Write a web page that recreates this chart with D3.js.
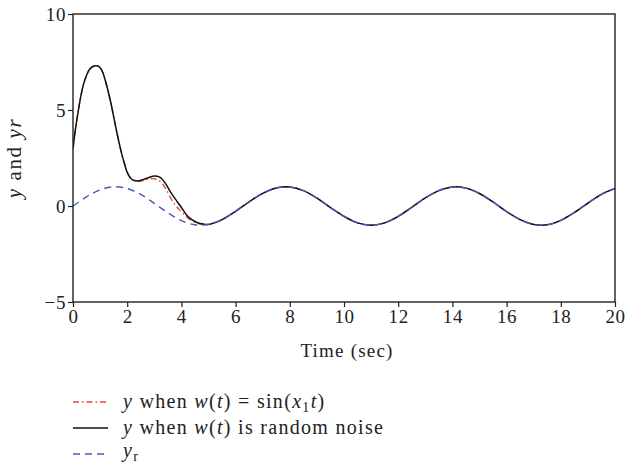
<!DOCTYPE html>
<html>
<head>
<meta charset="utf-8">
<script src="https://cdn.jsdelivr.net/npm/d3@7"></script>
<style>
  body { margin: 0; background: #fff; }
  svg { display: block; font-family: "Liberation Serif", "DejaVu Serif", serif; }
  .tick text { font-family: "Liberation Serif", serif; font-size: 19px; fill: #222; letter-spacing: 0.6px; }
</style>
</head>
<body>
<svg width="626" height="468"></svg>
<script>
// reference signal yr, read every 0.5 s
var tRef = [0,0.5,1,1.5,2,2.5,3,3.5,4,4.5,5,5.5,6,6.5,7,7.5,8,8.5,9,9.5,10,
            10.5,11,11.5,12,12.5,13,13.5,14,14.5,15,15.5,16,16.5,17,17.5,18,18.5,19,19.5,20];
var yRef = [0,0.48,0.84,1.0,0.91,0.6,0.14,-0.35,-0.76,-0.98,-0.96,-0.71,-0.28,0.22,0.66,0.94,0.99,0.8,0.41,-0.08,-0.54,
            -0.88,-1.0,-0.88,-0.54,-0.07,0.42,0.8,0.99,0.93,0.65,0.21,-0.29,-0.71,-0.96,-0.98,-0.75,-0.34,0.15,0.61,0.91];
// transient part of y (0..5 s), after that y follows yr
var tTrans = [0,0.1,0.2,0.3,0.4,0.5,0.6,0.75,0.9,1.0,1.1,1.2,1.3,1.4,1.5,1.6,1.7,1.8,1.9,2.0,
              2.1,2.2,2.4,2.6,2.8,3.0,3.2,3.4,3.6,3.8,4.0,4.2,4.4,4.6,4.8,5.0];
var yNoise = [3.0,4.1,5.0,5.8,6.4,6.8,7.1,7.28,7.3,7.2,6.95,6.5,5.95,5.35,4.65,3.95,3.3,2.7,2.2,1.75,
              1.5,1.36,1.3,1.38,1.48,1.56,1.5,1.2,0.72,0.32,-0.08,-0.48,-0.72,-0.87,-0.94,-0.96];
var ySine  = [3.0,4.1,5.0,5.8,6.4,6.8,7.1,7.28,7.3,7.2,6.95,6.5,5.95,5.35,4.65,3.95,3.3,2.7,2.2,1.75,
              1.5,1.36,1.3,1.33,1.4,1.42,1.3,0.95,0.42,0.0,-0.3,-0.58,-0.78,-0.9,-0.96,-0.96];
var xTicks = [0,2,4,6,8,10,12,14,16,18,20];
var yTicks = [-5,0,5,10];

var margin = {top: 14, right: 11, bottom: 166, left: 73},
    svg = d3.select('svg'),
    width = +svg.attr('width') - margin.left - margin.right,
    height = +svg.attr('height') - margin.top - margin.bottom;

var x = d3.scaleLinear().domain([0, 20]).range([0, width]);
var y = d3.scaleLinear().domain([-5, 10]).range([height, 0]);

var g = svg.append('g').attr('transform', 'translate(' + margin.left + ',' + margin.top + ')');

g.append('defs').append('clipPath').attr('id', 'clip')
  .append('rect').attr('width', width).attr('height', height);

var fmt = function(d){ return d < 0 ? '\u2212' + Math.abs(d) : d; };

var xa = g.append('g').attr('transform', 'translate(0,' + height + ')')
  .call(d3.axisBottom(x).tickValues(xTicks).tickSize(5).tickPadding(3).tickFormat(fmt));
var ya = g.append('g')
  .call(d3.axisLeft(y).tickValues(yTicks).tickSize(5).tickPadding(2).tickFormat(fmt));
[xa, ya].forEach(function(a){
  a.attr('font-family', '"Liberation Serif", serif').attr('font-size', 19);
  a.select('.domain').remove();
  a.selectAll('.tick line').attr('stroke', '#222').attr('stroke-width', 1.2);
});

// build series: transient part, then reference after 5 s
function series(vals){
  var pts = tTrans.map(function(t, i){ return [t, vals[i]]; });
  tRef.forEach(function(t, i){ if (t > 5) pts.push([t, yRef[i]]); });
  return pts;
}
var refPts = tRef.map(function(t, i){ return [t, yRef[i]]; });

var line = d3.line()
  .x(function(d){ return x(d[0]); })
  .y(function(d){ return y(d[1]); })
  .curve(d3.curveCatmullRom.alpha(0.5));

var plot = g.append('g').attr('clip-path', 'url(#clip)');
plot.append('path').datum(series(ySine)).attr('d', line)
  .attr('fill', 'none').attr('stroke', '#e8473c').attr('stroke-width', 1.4)
  .attr('stroke-dasharray', '6,3,1.5,3');
plot.append('path').datum(series(yNoise)).attr('d', line)
  .attr('fill', 'none').attr('stroke', '#111').attr('stroke-width', 1.5);
plot.append('path').datum(refPts).attr('d', line)
  .attr('fill', 'none').attr('stroke', '#4a58c4').attr('stroke-width', 1.4)
  .attr('stroke-dasharray', '7,5');

g.append('rect').attr('width', width).attr('height', height)
  .attr('fill', 'none').attr('stroke', '#222').attr('stroke-width', 1.4);

// axis titles
svg.append('text').attr('x', margin.left + width / 2 + 3).attr('y', 357)
  .attr('text-anchor', 'middle').attr('font-size', 19).attr('letter-spacing', 1.2).attr('fill', '#222')
  .text('Time (sec)');

var yl = svg.append('text').attr('transform', 'translate(21,' + (margin.top + height / 2) + ') rotate(-90)')
  .attr('text-anchor', 'middle').attr('font-size', 21).attr('letter-spacing', 1.6).attr('fill', '#222');
yl.append('tspan').attr('font-style', 'italic').text('y');
yl.append('tspan').text(' and ');
yl.append('tspan').attr('font-style', 'italic').text('yr');

// legend
var legend = svg.append('g').attr('font-size', 20).attr('letter-spacing', 1.3).attr('fill', '#222');
var rows = [
  {color: '#e8473c', dash: '6,3,1.5,3', width: 1.4},
  {color: '#111', dash: null, width: 1.5},
  {color: '#4a58c4', dash: '7,5', width: 1.4}
];
rows.forEach(function(r, i){
  var yy = 402 + i * 26;
  legend.append('line').attr('x1', 73).attr('x2', 108).attr('y1', yy).attr('y2', yy)
    .attr('stroke', r.color).attr('stroke-width', r.width).attr('stroke-dasharray', r.dash);
});
var t1 = legend.append('text').attr('x', 123).attr('y', 408);
t1.append('tspan').attr('font-style', 'italic').text('y');
t1.append('tspan').text(' when ');
t1.append('tspan').attr('font-style', 'italic').text('w');
t1.append('tspan').text('(');
t1.append('tspan').attr('font-style', 'italic').text('t');
t1.append('tspan').text(') = sin(');
t1.append('tspan').attr('font-style', 'italic').text('x');
t1.append('tspan').attr('font-size', 14).attr('dy', 4).text('1');
t1.append('tspan').attr('font-style', 'italic').attr('dy', -4).text('t');
t1.append('tspan').text(')');

var t2 = legend.append('text').attr('x', 123).attr('y', 434);
t2.append('tspan').attr('font-style', 'italic').text('y');
t2.append('tspan').text(' when ');
t2.append('tspan').attr('font-style', 'italic').text('w');
t2.append('tspan').text('(');
t2.append('tspan').attr('font-style', 'italic').text('t');
t2.append('tspan').text(') is random noise');

var t3 = legend.append('text').attr('x', 123).attr('y', 457);
t3.append('tspan').attr('font-style', 'italic').text('y');
t3.append('tspan').attr('font-size', 14).attr('dy', 4).text('r');
</script>
</body>
</html>
